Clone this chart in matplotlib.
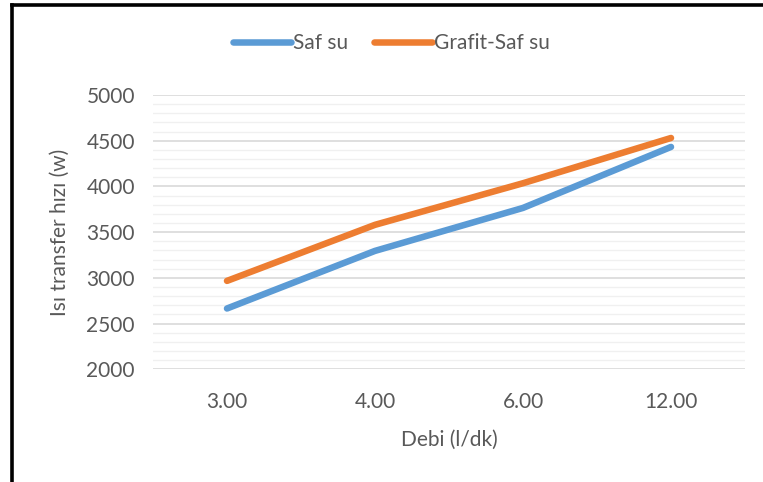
import matplotlib
matplotlib.use("Agg")
import matplotlib.pyplot as plt
from matplotlib.lines import Line2D
from matplotlib.ticker import MultipleLocator

categories = ["3.00", "4.00", "6.00", "12.00"]
saf_su = [2665, 3295, 3765, 4432]
grafit_saf_su = [2967, 3580, 4035, 4530]
series_names = ["Saf su", "Grafit-Saf su"]
y_ticks = [2000, 2500, 3000, 3500, 4000, 4500, 5000]

plt.rcParams['font.family'] = ['Lato', 'DejaVu Sans']
text_color = '#595959'
fs = 15

fig = plt.figure(figsize=(7.63, 4.82), dpi=100)
ax_l, ax_r, ax_t, ax_b = 153, 745, 95, 369.3
ax = fig.add_axes([ax_l/763, 1-ax_b/482, (ax_r-ax_l)/763, (ax_b-ax_t)/482])

x = list(range(len(categories)))
ax.plot(x, saf_su, color='#5b9bd5', lw=4.7, solid_capstyle='round', solid_joinstyle='round', label=series_names[0], zorder=3)
ax.plot(x, grafit_saf_su, color='#ed7d31', lw=4.7, solid_capstyle='round', solid_joinstyle='round', label=series_names[1], zorder=3)

ax.set_xlim(-0.5, len(categories)-0.5)
ax.set_ylim(2000, 5000)
ax.set_xticks(x)
ax.set_xticklabels(categories)
ax.set_yticks(y_ticks)
ax.yaxis.set_minor_locator(MultipleLocator(100))
ax.grid(axis='y', which='major', color='#d9d9d9', lw=1.2, zorder=0)
ax.grid(axis='y', which='minor', color='#f0f0f0', lw=1.0, zorder=0)
for s in ax.spines.values():
    s.set_visible(False)
ax.tick_params(axis='both', which='both', length=0, labelsize=fs, colors=text_color)
ax.tick_params(axis='x', pad=16)
ax.tick_params(axis='y', pad=13)

ax.set_xlabel('Debi (l/dk)', fontsize=fs, color=text_color, labelpad=13)
ax.set_ylabel('Isı transfer hızı (w)', fontsize=fs, color=text_color, labelpad=12)

leg = fig.legend(handles=ax.get_lines(), loc='center left',
                 bbox_to_anchor=(233/763, 1-43/482), ncol=2, frameon=False,
                 fontsize=fs, handlelength=2.8, handletextpad=0.1, columnspacing=1.2,
                 borderaxespad=0, borderpad=0)
for t in leg.get_texts():
    t.set_color(text_color)

fig.add_artist(Line2D([12/763, 1], [1-5/482, 1-5/482], color='black', lw=2.6, transform=fig.transFigure))
fig.add_artist(Line2D([12/763, 12/763], [0, 1-5/482], color='black', lw=2.6, transform=fig.transFigure))

fig.savefig('out.png', dpi=100)
